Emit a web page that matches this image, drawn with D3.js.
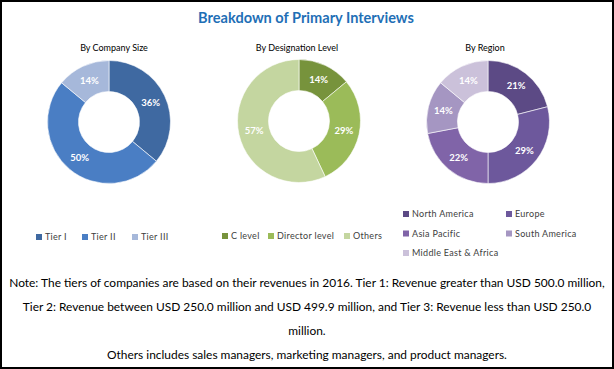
<!DOCTYPE html>
<html><head><meta charset="utf-8">
<script src="https://cdn.jsdelivr.net/npm/d3@7"></script>
<style>
html,body{margin:0;padding:0;background:#fff;}
svg{display:block;font-family:Lato,"Open Sans",sans-serif;}
</style></head>
<body>
<svg id="chart" width="614" height="369"></svg>
<script>
const title = "Breakdown of Primary Interviews";

const companyTitle = "By Company Size";
const companyCategories = ["Tier I", "Tier II", "Tier III"];
const companyValues = [36, 50, 14];
const companyColors = ["#3F69A1", "#4A7EC4", "#A6B8DA"];

const designationTitle = "By Designation Level";
const designationCategories = ["C level", "Director level", "Others"];
const designationValues = [14, 29, 57];
const designationColors = ["#77933C", "#9BBB59", "#C4D6A0"];

const regionTitle = "By Region";
const regionCategories = ["North America", "Europe", "Asia Pacific", "South America", "Middle East & Africa"];
const regionValues = [21, 29, 22, 14, 14];
const regionColors = ["#5C4A85", "#6D589C", "#8064A8", "#A596C2", "#CBC1DA"];

const noteLines = [
  "Note: The tiers of companies are based on their revenues in 2016. Tier 1: Revenue greater than USD 500.0 million,",
  "Tier 2: Revenue between USD 250.0 million and USD 499.9 million, and Tier 3: Revenue less than USD 250.0",
  "million.",
  "Others includes sales managers, marketing managers, and product managers."
];

const svg = d3.select("#chart");
svg.append("rect").attr("x",1).attr("y",1).attr("width",612).attr("height",367)
  .attr("fill","#fff").attr("stroke","#000").attr("stroke-width",2);

function fitWidth(sel, target){
  const w = sel.node().getComputedTextLength();
  const fs = parseFloat(sel.attr("font-size"));
  sel.attr("font-size", fs*target/w);
}

const t = svg.append("text").attr("x",306).attr("y",23).attr("text-anchor","middle")
  .attr("font-size",14).attr("font-weight","bold").attr("fill","#1F6FB6").text(title);
fitWidth(t, 216);

const charts = [
  {title: companyTitle, cats: companyCategories, vals: companyValues, cols: companyColors,
   cx: 109, cy: 122, tx: 114, legend: {cols: 3, x0: 36, dx: [0, 46, 96], y0: 237, dy: 0}},
  {title: designationTitle, cats: designationCategories, vals: designationValues, cols: designationColors,
   cx: 299, cy: 121, tx: 297, legend: {cols: 3, x0: 222, dx: [0, 46, 122], y0: 236, dy: 0}},
  {title: regionTitle, cats: regionCategories, vals: regionValues, cols: regionColors,
   cx: 488, cy: 122, tx: 485, legend: {cols: 2, x0: 403, dx: [0, 103], y0: 214, dy: 19.5}}
];

const outerR = 61.5, innerR = 30.5;
const pie = d3.pie().sort(null).value(d => d);
const arc = d3.arc().innerRadius(innerR).outerRadius(outerR);

charts.forEach(c => {
  const st = svg.append("text").attr("x", c.tx).attr("y", 51).attr("text-anchor","middle")
    .attr("font-size",9).attr("fill","#000").text(c.title);
  const g = svg.append("g").attr("transform",`translate(${c.cx},${c.cy})`);
  const color = d3.scaleOrdinal().domain(c.cats).range(c.cols);
  const arcs = pie(c.vals);
  g.selectAll("path").data(arcs).join("path")
    .attr("d", arc).attr("fill", (d,i) => color(c.cats[i]))
    .attr("stroke","#fff").attr("stroke-width",0.6);
  g.selectAll("text").data(arcs).join("text")
    .attr("transform", d => `translate(${arc.centroid(d)})`)
    .attr("text-anchor","middle").attr("dy","0.35em")
    .attr("font-size",9.5).attr("font-weight","bold").attr("fill","#fff")
    .text(d => d.data + "%");
  const L = c.legend;
  c.cats.forEach((cat,i) => {
    const col = i % L.cols, row = Math.floor(i / L.cols);
    const x = L.x0 + L.dx[col], y = L.y0 + row*L.dy;
    svg.append("rect").attr("x", x).attr("y", y-3).attr("width",6).attr("height",6).attr("fill", color(cat));
    svg.append("text").attr("x", x+9).attr("y", y+3.2).attr("font-size",9).attr("fill","#404040")
      .attr("letter-spacing",0.3).text(cat);
  });
});

const noteY = [287, 311, 335, 359];
const noteSel = noteLines.map((s,i) => svg.append("text").attr("x",307).attr("y",noteY[i])
  .attr("text-anchor","middle").attr("font-size",12).attr("fill","#000").text(s));
const w0 = noteSel[0].node().getComputedTextLength();
const fsNote = 12*596/w0;
noteSel.forEach(s => s.attr("font-size", fsNote));
</script>
</body></html>
